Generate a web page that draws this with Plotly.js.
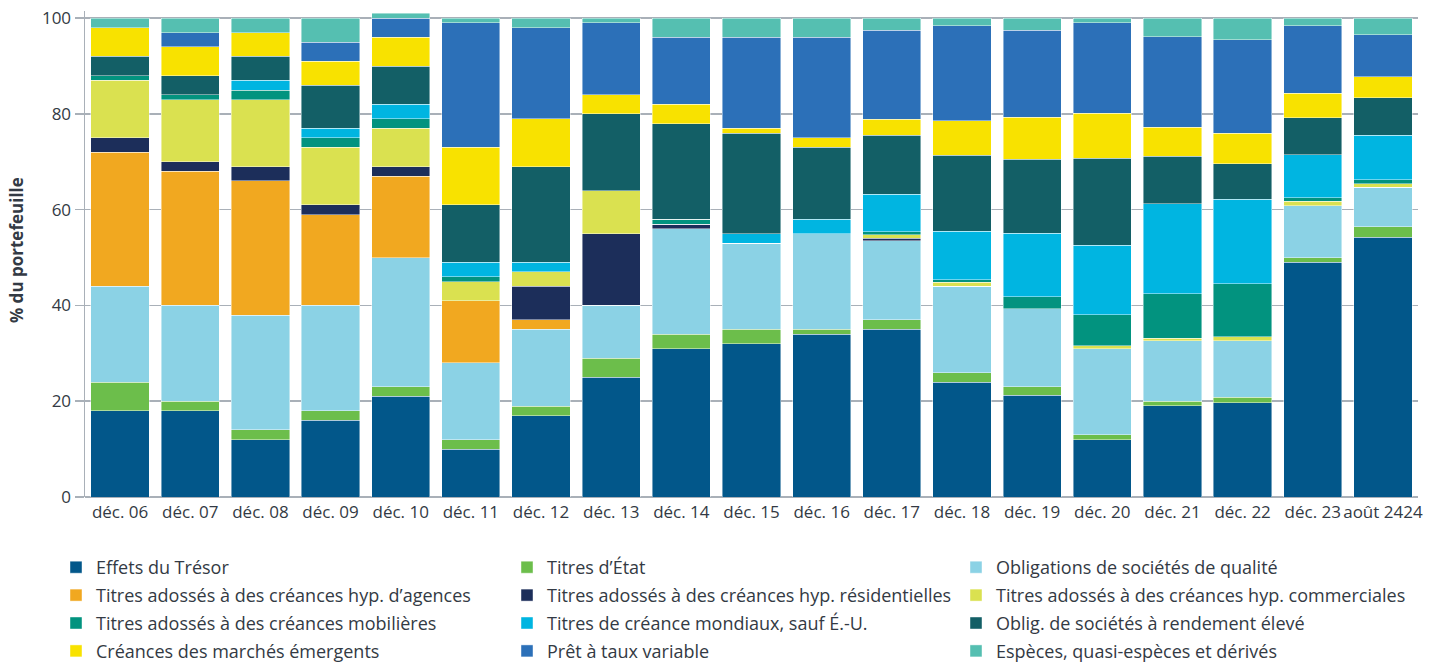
<!DOCTYPE html>
<html>
<head>
<meta charset="utf-8">
<script src="https://cdn.plot.ly/plotly-3.0.1.min.js"></script>
<style>html,body{margin:0;padding:0;background:#fff;}#chart{width:1442px;height:664px;}</style>
</head>
<body>
<div id="chart"></div>
<script>
const categories = ["déc. 06","déc. 07","déc. 08","déc. 09","déc. 10","déc. 11","déc. 12","déc. 13","déc. 14","déc. 15","déc. 16","déc. 17","déc. 18","déc. 19","déc. 20","déc. 21","déc. 22","déc. 23","août 2424"];

const effetsTresor      = [18, 18, 12, 16, 21, 10, 17, 25, 31, 32, 34, 35, 24, 21.3, 12, 19.1, 19.7, 49, 54.3];
const titresEtat        = [6, 2, 2, 2, 2, 2, 2, 4, 3, 3, 1, 2, 2, 1.7, 1, 0.9, 1.1, 1, 2.1];
const oblQualite        = [20, 20, 24, 22, 27, 16, 16, 11, 22, 18, 20, 16.5, 18, 16.3, 18, 12.6, 11.8, 10.8, 8.3];
const hypAgences        = [28, 28, 28, 19, 17, 13, 2, 0, 0, 0, 0, 0, 0, 0, 0, 0, 0, 0, 0];
const hypResidentielles = [3, 2, 3, 2, 2, 0, 7, 15, 1, 0, 0, 0.5, 0, 0, 0, 0, 0, 0, 0];
const hypCommerciales   = [12, 13, 14, 12, 8, 4, 3, 9, 0, 0, 0, 0.8, 0.9, 0, 0.6, 0.6, 0.9, 1.0, 0.7];
const creancesMobil     = [1, 1, 2, 2, 2, 1, 0, 0, 1, 0, 0, 0.6, 0.5, 2.5, 6.5, 9.2, 11.0, 0.7, 0.9];
const creanceMondiaux   = [0, 0, 2, 2, 3, 3, 2, 0, 0, 2, 3, 7.8, 10.1, 13.3, 14.5, 18.8, 17.7, 9.0, 9.3];
const rendementEleve    = [4, 4, 5, 9, 8, 12, 20, 16, 20, 21, 15, 12.4, 15.9, 15.4, 18.2, 10.0, 7.4, 7.7, 7.8];
const marchesEmergents  = [6, 6, 5, 5, 6, 12, 10, 4, 4, 1, 2, 3.3, 7.2, 8.8, 9.3, 6.0, 6.4, 5.1, 4.4];
const pretTauxVariable  = [0, 3, 0, 4, 4, 26, 19, 15, 14, 19, 21, 18.6, 19.8, 18.2, 18.9, 18.9, 19.5, 14.1, 8.7];
const especes           = [2, 3, 3, 5, 1, 1, 2, 1, 4, 4, 4, 2.5, 1.6, 2.5, 1.0, 3.9, 4.5, 1.6, 3.5];

const seriesNames = [
  "Effets du Trésor","Titres d’État","Obligations de sociétés de qualité",
  "Titres adossés à des créances hyp. d’agences","Titres adossés à des créances hyp. résidentielles","Titres adossés à des créances hyp. commerciales",
  "Titres adossés à des créances mobilières","Titres de créance mondiaux, sauf É.-U.","Oblig. de sociétés à rendement élevé",
  "Créances des marchés émergents","Prêt à taux variable","Espèces, quasi-espèces et dérivés"
];
const seriesValues = [effetsTresor, titresEtat, oblQualite, hypAgences, hypResidentielles, hypCommerciales,
  creancesMobil, creanceMondiaux, rendementEleve, marchesEmergents, pretTauxVariable, especes];
const seriesColors = ["#02578A","#6CBE4B","#8BD2E5","#F1A820","#1C2E5A","#DAE150",
  "#02937F","#00B5E1","#135F66","#F8E200","#2C70B8","#55BFB1"];
const yTicks = [0, 20, 40, 60, 80, 100];
const yTitle = "% du portefeuille";
const legendIds = ["legend", "legend2", "legend3"];

const traces = seriesNames.map((name, i) => ({
  type: "bar",
  name: name,
  x: categories,
  y: seriesValues[i],
  legend: legendIds[i % 3],
  legendgroup: "g" + i,
  marker: {color: seriesColors[i], line: {color: "rgba(255,255,255,0.55)", width: 0.8}},
  hoverinfo: "name+y"
}));

function legendAt(px) {
  return {
    orientation: "v",
    xref: "container", yref: "container",
    x: px / 1442, y: 1 - 549 / 664,
    xanchor: "left", yanchor: "top",
    traceorder: "grouped",
    tracegroupgap: 1.5,
    font: {size: 18, color: "#333a44"},
    itemwidth: 30,
    bgcolor: "rgba(0,0,0,0)"
  };
}

const layout = {
  width: 1442, height: 664,
  barmode: "stack",
  bargap: 0.17,
  paper_bgcolor: "#fff",
  plot_bgcolor: "#fff",
  font: {family: "Open Sans, sans-serif", color: "#333a44", size: 17},
  margin: {l: 85, r: 24, t: 11, b: 167, autoexpand: false},
  xaxis: {
    type: "category",
    showgrid: false,
    showline: false,
    ticks: "",
    tickfont: {size: 17, color: "#333a44"},
    ticklabelstandoff: 3
  },
  yaxis: {
    range: [0, 101.5],
    tickvals: yTicks,
    ticktext: yTicks.map(String),
    showgrid: true,
    gridcolor: "#A9B0B8",
    gridwidth: 1.5,
    zeroline: true,
    zerolinecolor: "#A9B0B8",
    zerolinewidth: 1.5,
    showline: true,
    linecolor: "#A9B0B8",
    linewidth: 1.5,
    ticks: "outside",
    ticklen: 9,
    tickcolor: "#A9B0B8",
    tickwidth: 1.5,
    tickfont: {size: 17, color: "#333a44"}
  },
  annotations: [{
    text: yTitle,
    xref: "paper", yref: "paper",
    x: 0, y: 0.508,
    xshift: -69,
    xanchor: "center", yanchor: "middle",
    textangle: -90,
    showarrow: false,
    font: {size: 17, color: "#333a44", weight: "bold"}
  }],
  showlegend: true,
  legend: legendAt(56),
  legend2: legendAt(507),
  legend3: legendAt(956)
};

Plotly.newPlot("chart", traces, layout, {displayModeBar: false, staticPlot: true});
</script>
</body>
</html>
